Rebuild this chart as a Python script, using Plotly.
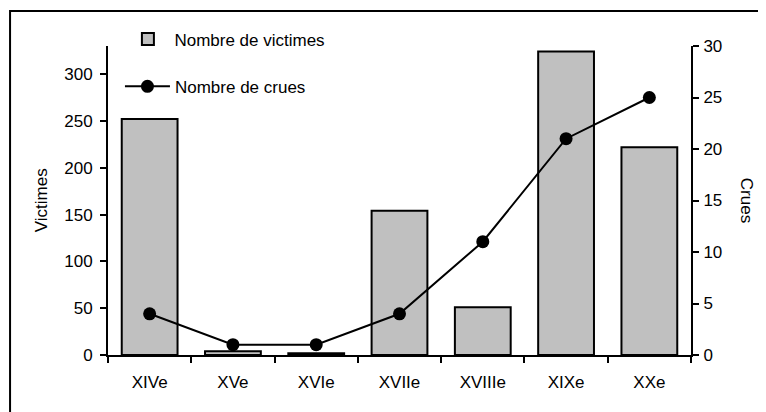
import plotly.graph_objects as go

# ---- data ----
categories = ["XIVe", "XVe", "XVIe", "XVIIe", "XVIIIe", "XIXe", "XXe"]
victimes = [252, 4, 2, 154, 51, 324, 222]
crues = [4, 1, 1, 4, 11, 21, 25]
victimes_ticks = [0, 50, 100, 150, 200, 250, 300]
crues_ticks = [0, 5, 10, 15, 20, 25, 30]
boundaries = [i + 0.5 for i in range(len(categories) - 1)]

FONT = "Liberation Sans, Arial, Helvetica, sans-serif"
FS = 17

fig = go.Figure()
fig.add_trace(go.Bar(
    x=categories, y=victimes, name="Nombre de victimes",
    marker=dict(color="#C0C0C0", line=dict(color="black", width=2)),
    xaxis="x", yaxis="y", legend="legend",
))
fig.add_trace(go.Scatter(
    x=categories, y=crues, name="Nombre de crues", mode="lines+markers",
    line=dict(color="black", width=2),
    marker=dict(color="black", size=13),
    xaxis="x", yaxis="y2", legend="legend2",
))

common_tick = dict(tickcolor="black", tickwidth=1.5, ticklen=6,
                   showgrid=False, zeroline=False)

fig.update_layout(
    width=758, height=404,
    margin=dict(l=100, r=75, t=38, b=57, autoexpand=False),
    paper_bgcolor="white", plot_bgcolor="white",
    font=dict(family=FONT, size=FS, color="black"),
    bargap=0.33,
    showlegend=True,
    xaxis=dict(type="category", categoryorder="array", categoryarray=categories,
               range=[-0.5, 6.5], showline=True, linecolor="black", linewidth=2,
               ticks="outside", tickson="boundaries", ticklabelstandoff=11,
               **common_tick),
    xaxis2=dict(overlaying="x", anchor="y", side="bottom", range=[-0.5, 6.5],
                tickvals=boundaries, ticks="inside", showticklabels=False,
                showline=False, **common_tick),
    yaxis=dict(range=[0, 330], tickvals=victimes_ticks, ticks="outside",
               showline=True, linecolor="black", linewidth=2,
               ticklabelstandoff=4, **common_tick),
    yaxis3=dict(overlaying="y", anchor="x", side="left", range=[0, 330],
                tickvals=victimes_ticks, ticks="inside", showticklabels=False,
                showline=False, **common_tick),
    yaxis2=dict(overlaying="y", side="right", anchor="x", range=[0, 30],
                tickvals=crues_ticks, ticks="outside",
                showline=True, linecolor="black", linewidth=2,
                ticklabelstandoff=1, **common_tick),
    legend=dict(x=0.023, y=1.021, xanchor="left", yanchor="middle",
                bgcolor="rgba(0,0,0,0)", itemwidth=43,
                font=dict(family=FONT, size=FS, color="black")),
    legend2=dict(x=0.0205, y=0.868, xanchor="left", yanchor="middle",
                 bgcolor="rgba(0,0,0,0)", itemwidth=45,
                 font=dict(family=FONT, size=FS, color="black")),
    annotations=[
        dict(text="Victimes", textangle=-90, xref="paper", yref="paper",
             x=-0.1137, y=0.5, xanchor="center", yanchor="middle",
             showarrow=False, font=dict(family=FONT, size=FS, color="black")),
        dict(text="Crues", textangle=90, xref="paper", yref="paper",
             x=1.0955, y=0.5, xanchor="center", yanchor="middle",
             showarrow=False, font=dict(family=FONT, size=FS, color="black")),
    ],
    shapes=[
        dict(type="rect", xref="paper", yref="paper",
             x0=-0.168, x1=1.2, y0=-0.3, y1=1.113,
             line=dict(color="black", width=2), fillcolor="rgba(0,0,0,0)",
             layer="below"),
    ],
)

fig.write_html("out.html")
